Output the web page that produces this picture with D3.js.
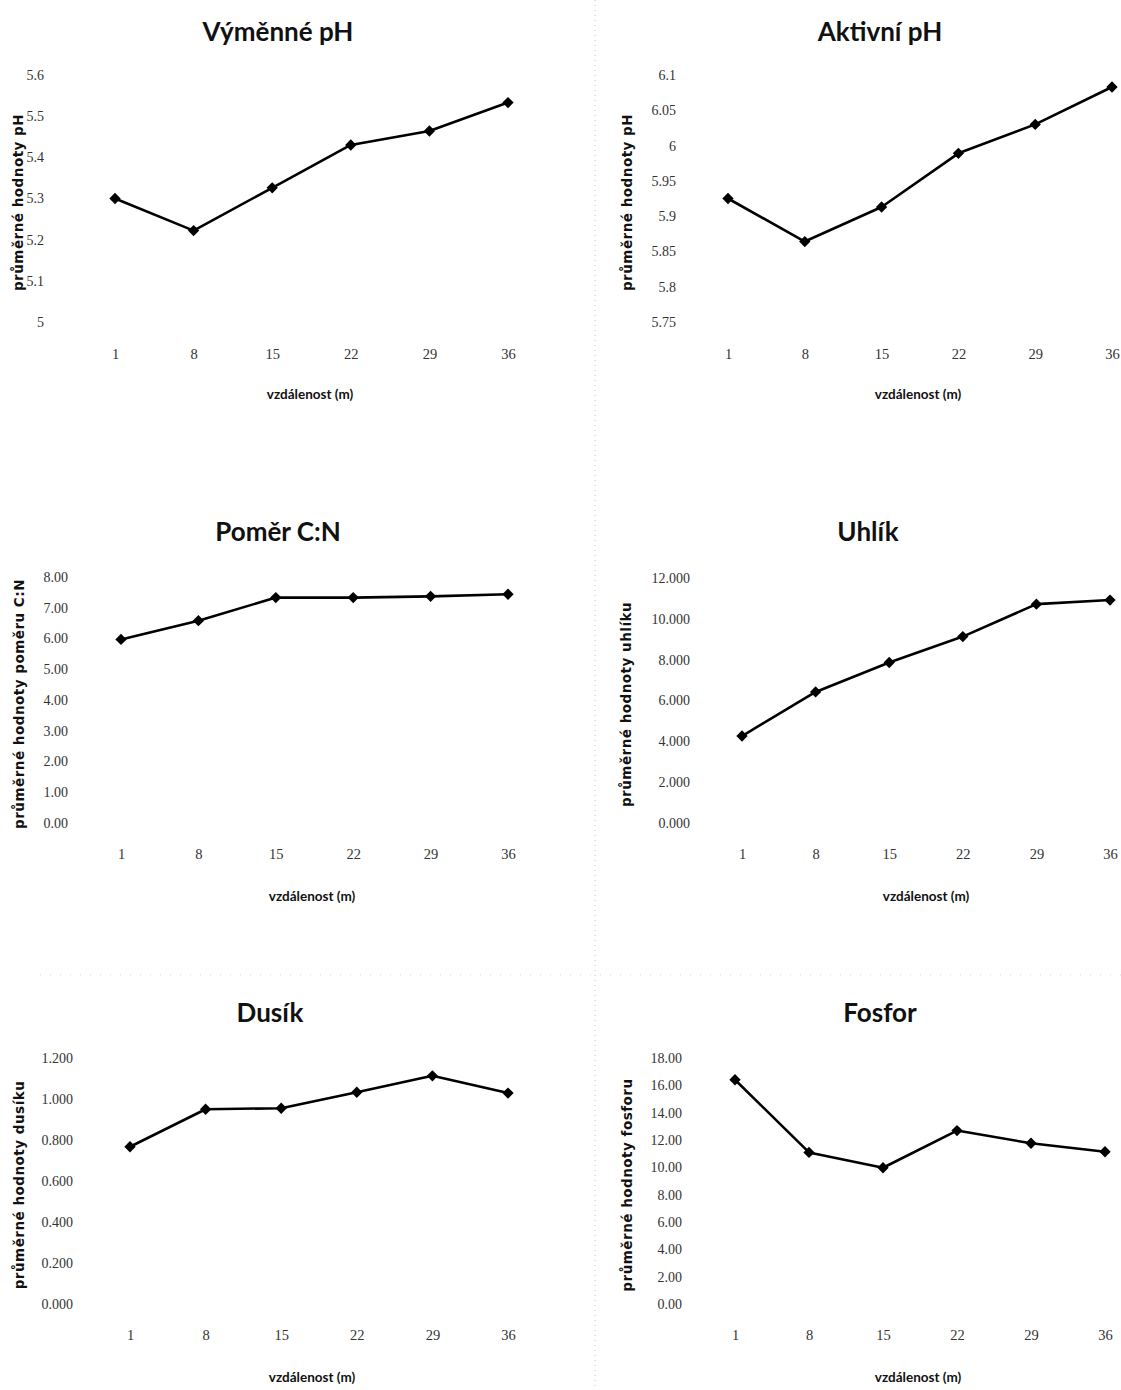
<!DOCTYPE html>
<html lang="cs">
<head>
<meta charset="utf-8">
<title>Půdní vlastnosti podle vzdálenosti</title>
<script src="https://cdn.jsdelivr.net/npm/d3@7"></script>
<style>
  html, body { margin: 0; padding: 0; background: #fff; }
  svg { display: block; }
</style>
</head>
<body>
<script>
// Distance categories (m)
const distances = ["1", "8", "15", "22", "29", "36"];

// Mean values per distance
const vymennePH = [5.30, 5.222, 5.326, 5.430, 5.464, 5.533];
const aktivniPH = [5.925, 5.864, 5.913, 5.989, 6.030, 6.083];
const pomerCN   = [5.97, 6.58, 7.33, 7.33, 7.37, 7.44];
const uhlik     = [4.26, 6.42, 7.86, 9.13, 10.72, 10.92];
const dusik     = [0.767, 0.950, 0.955, 1.033, 1.113, 1.029];
const fosfor    = [16.41, 11.09, 9.97, 12.69, 11.76, 11.14];

// Y tick values
const ticksVymenne = [5, 5.1, 5.2, 5.3, 5.4, 5.5, 5.6];
const ticksAktivni = [5.75, 5.8, 5.85, 5.9, 5.95, 6, 6.05, 6.1];
const ticksCN      = [0, 1, 2, 3, 4, 5, 6, 7, 8];
const ticksUhlik   = [0, 2, 4, 6, 8, 10, 12];
const ticksDusik   = [0, 0.2, 0.4, 0.6, 0.8, 1.0, 1.2];
const ticksFosfor  = [0, 2, 4, 6, 8, 10, 12, 14, 16, 18];

// Titles
const titles = ["Výměnné pH", "Aktivní pH", "Poměr C:N", "Uhlík", "Dusík", "Fosfor"];
const yTitles = [
  "průměrné hodnoty pH",
  "průměrné hodnoty pH",
  "průměrné hodnoty poměru C:N",
  "průměrné hodnoty uhlíku",
  "průměrné hodnoty dusíku",
  "průměrné hodnoty fosforu"
];
const xTitle = "vzdálenost (m)";

const W = 1121, H = 1390;
const svg = d3.select("body").append("svg").attr("width", W).attr("height", H);

// Faint dotted page separators
svg.append("line")
  .attr("x1", 595).attr("x2", 595).attr("y1", 0).attr("y2", H)
  .attr("stroke", "#c8c8c8").attr("stroke-width", 1).attr("stroke-dasharray", "1,4");
svg.append("line")
  .attr("x1", 40).attr("x2", W).attr("y1", 975).attr("y2", 975)
  .attr("stroke", "#d8d8d8").attr("stroke-width", 1).attr("stroke-dasharray", "1,9");

// Panel layout (positions only)
const panels = [
  { values: vymennePH, ticks: ticksVymenne, fmt: d3.format(""),    domain: [5, 5.6],
    xr: [115, 508], yr: [322, 75], labelX: 44, yTitleX: 18, titleX: 278, titleY: 32, axisTitleX: 310, tickY: 362, axisTitleY: 399 },
  { values: aktivniPH, ticks: ticksAktivni, fmt: d3.format(""),   domain: [5.75, 6.1],
    xr: [728, 1112], yr: [322, 75], labelX: 676, yTitleX: 627, titleX: 880, titleY: 32, axisTitleX: 918, tickY: 362, axisTitleY: 399 },
  { values: pomerCN, ticks: ticksCN, fmt: d3.format(".2f"),       domain: [0, 8],
    xr: [121, 508], yr: [823, 577], labelX: 68, yTitleX: 19, titleX: 278, titleY: 532, axisTitleX: 312, tickY: 862, axisTitleY: 901 },
  { values: uhlik, ticks: ticksUhlik, fmt: d3.format(".3f"),      domain: [0, 12],
    xr: [742, 1110], yr: [823, 578], labelX: 690, yTitleX: 626, titleX: 868, titleY: 532, axisTitleX: 926, tickY: 862, axisTitleY: 901 },
  { values: dusik, ticks: ticksDusik, fmt: d3.format(".3f"),      domain: [0, 1.2],
    xr: [130, 508], yr: [1304, 1058], labelX: 73, yTitleX: 19, titleX: 270, titleY: 1013, axisTitleX: 312, tickY: 1343, axisTitleY: 1382 },
  { values: fosfor, ticks: ticksFosfor, fmt: d3.format(".2f"),    domain: [0, 18],
    xr: [735, 1105], yr: [1304, 1058], labelX: 682, yTitleX: 627, titleX: 880, titleY: 1013, axisTitleX: 918, tickY: 1343, axisTitleY: 1382 }
];

const tickFont = "'Liberation Serif', 'DejaVu Serif', serif";

panels.forEach((p, i) => {
  const g = svg.append("g");
  const x = d3.scalePoint().domain(distances).range(p.xr).padding(0);
  const y = d3.scaleLinear().domain(p.domain).range(p.yr);

  // Title
  g.append("text")
    .attr("x", p.titleX).attr("y", p.titleY + 9)
    .attr("text-anchor", "middle")
    .style("font-family", "Lato, 'Open Sans', sans-serif")
    .style("font-weight", "700").style("font-size", "26px")
    .attr("fill", "#111")
    .text(titles[i]);

  // Y axis (labels only, no line)
  const yAxis = d3.axisLeft(y).tickValues(p.ticks).tickFormat(p.fmt).tickSize(0).tickPadding(0);
  const ya = g.append("g").attr("transform", `translate(${p.labelX},0)`).call(yAxis);
  ya.select(".domain").remove();
  ya.selectAll("text")
    .style("font-family", tickFont)
    .style("font-size", "14px").attr("fill", "#333");

  // X axis (labels only, no line)
  const xAxis = d3.axisBottom(x).tickSize(0).tickPadding(0);
  const xa = g.append("g").attr("transform", `translate(0,${p.tickY - 13})`).call(xAxis);
  xa.select(".domain").remove();
  xa.selectAll("text")
    .style("font-family", tickFont)
    .style("font-size", "14.5px").attr("fill", "#333");

  // Axis titles
  const yMid = (p.yr[0] + p.yr[1]) / 2;
  g.append("text")
    .attr("transform", `translate(${p.yTitleX + 5},${yMid + 4}) rotate(-90)`)
    .attr("text-anchor", "middle")
    .style("font-family", "'DejaVu Sans', sans-serif")
    .style("font-weight", "700").style("font-size", "13.5px")
    .style("letter-spacing", "0.5px")
    .attr("fill", "#111")
    .text(yTitles[i]);

  g.append("text")
    .attr("x", p.axisTitleX).attr("y", p.axisTitleY)
    .attr("text-anchor", "middle")
    .style("font-family", "Lato, sans-serif")
    .style("font-weight", "700").style("font-size", "13.5px")
    .attr("fill", "#111")
    .text(xTitle);

  // Series line
  const line = d3.line().x((d, j) => x(distances[j])).y(d => y(d));
  g.append("path")
    .datum(p.values)
    .attr("d", line)
    .attr("fill", "none").attr("stroke", "#000")
    .attr("stroke-width", 2.6).attr("stroke-linejoin", "round");

  // Diamond markers (squares turned 45°)
  g.selectAll(".pt").data(p.values).enter().append("path")
    .attr("class", "pt")
    .attr("transform", (d, j) => `translate(${x(distances[j])},${y(d)}) rotate(45)`)
    .attr("d", d3.symbol().type(d3.symbolSquare).size(64))
    .attr("fill", "#000");
});
</script>
</body>
</html>
